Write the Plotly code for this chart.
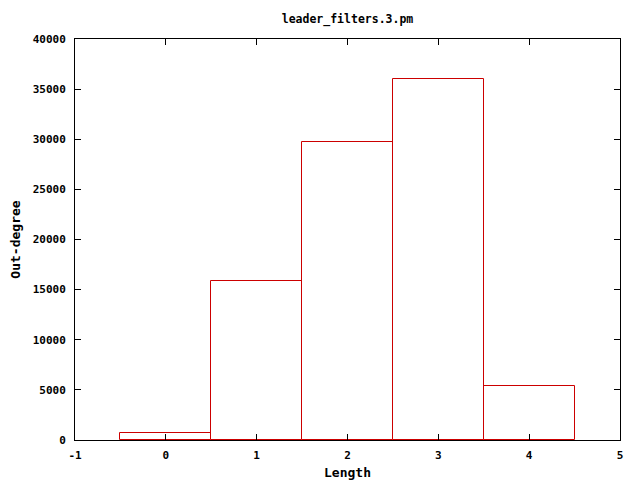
import plotly.graph_objects as go

categories = [0, 1, 2, 3, 4]
values = [700, 15900, 29700, 36000, 5400]
x_ticks = [-1, 0, 1, 2, 3, 4, 5]
y_ticks = [0, 5000, 10000, 15000, 20000, 25000, 30000, 35000, 40000]

font = dict(family="DejaVu Sans Mono", size=11, color="black")

# page body has an 8px margin, so the figure is 8px smaller and offsets shift by 8
OFF = 8
fig = go.Figure()
fig.add_trace(go.Bar(
    x=categories, y=values, width=1.0,
    marker=dict(color="rgba(255,255,255,0)", line=dict(color="#cc0000", width=1)),
    showlegend=False,
))

fig.update_layout(
    width=640 - OFF, height=480 - OFF,
    margin=dict(l=75 - OFF, r=20, t=39 - OFF, b=40, autoexpand=False),
    paper_bgcolor="white", plot_bgcolor="white",
    font=font,
    title=dict(text="<b>leader_filters.3.pm</b>", x=(347.5 - OFF) / (640 - OFF), xanchor="center",
               y=1 - (19 - OFF) / (480 - OFF), yanchor="middle",
               font=dict(family="DejaVu Sans Mono", size=11.5)),
    bargap=0,
)
fig.update_xaxes(
    range=[-1, 5], tickvals=x_ticks, ticktext=[f"<b>{t}</b>" for t in x_ticks],
    showgrid=False, zeroline=False, showline=True, linecolor="black", linewidth=1, mirror="ticks",
    ticks="inside", ticklen=6, tickcolor="black", automargin=False, ticklabelstandoff=5,
    title=dict(text="<b>Length</b>", standoff=6),
)
fig.update_yaxes(
    range=[0, 40000], tickvals=y_ticks, ticktext=[f"<b>{t}</b>" for t in y_ticks],
    showgrid=False, zeroline=False, showline=True, linecolor="black", linewidth=1, mirror="ticks",
    ticks="inside", ticklen=6, tickcolor="black", automargin=False, ticklabelstandoff=6,
    title=dict(text="<b>Out-degree</b>", standoff=11),
)

fig.write_html("out.html")
